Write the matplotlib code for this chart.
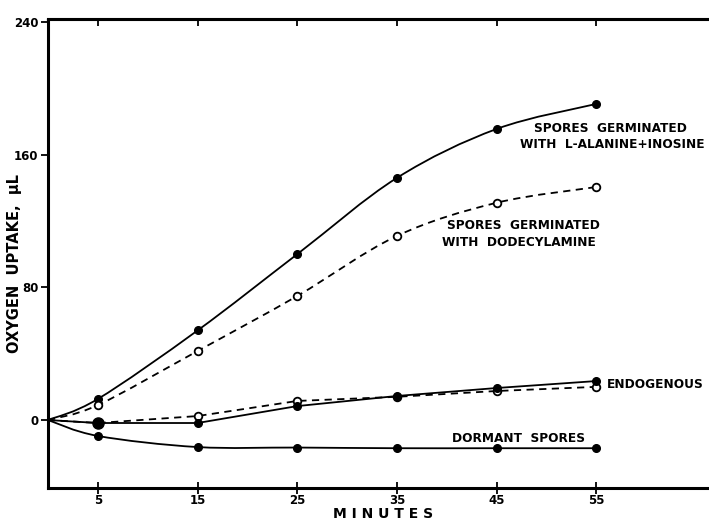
import numpy as np
import matplotlib
matplotlib.use("Agg")
from matplotlib import pyplot as plt
from matplotlib.path import Path
from matplotlib.patches import PathPatch

minutes = [0, 5, 15, 25, 35, 45, 55]
alanine = [0, 12.7, 54, 100, 146, 175.5, 190.6]
dodecyl = [0, 9, 41.6, 74.8, 111, 131, 140.5]
endo_solid = [0, -1.8, -1.8, 8.4, 14.5, 19.3, 23.5]
endo_open = [0, -1.8, 2.4, 11.5, 14, 17.5, 20]
dormant = [0, -9.6, -16.3, -16.6, -17, -17, -17]

plt.rcParams['font.family'] = 'DejaVu Sans'
plt.rcParams['font.weight'] = 'bold'


def smooth_path(xs, ys):
    # catmull-rom -> cubic bezier through the points
    pts = np.column_stack([xs, ys]).astype(float)
    verts = [pts[0]]
    codes = [Path.MOVETO]
    n = len(pts)
    for i in range(n - 1):
        p0 = pts[i - 1] if i > 0 else pts[i]
        p1 = pts[i]
        p2 = pts[i + 1]
        p3 = pts[i + 2] if i + 2 < n else pts[i + 1]
        c1 = p1 + (p2 - p0) / 6.0
        c2 = p2 - (p3 - p1) / 6.0
        verts += [c1, c2, p2]
        codes += [Path.CURVE4] * 3
    return Path(verts, codes)


fig = plt.figure(figsize=(7.09, 5.2), dpi=100)
ax = fig.add_axes([0.0677, 0.0615, 0.9323, 0.901])

ax.add_patch(PathPatch(smooth_path(minutes, alanine), fill=False, lw=1.3, color='black'))
ax.add_patch(PathPatch(smooth_path(minutes, dodecyl), fill=False, lw=1.3, color='black',
                       linestyle=(0, (4, 3))))
ax.add_patch(PathPatch(smooth_path(minutes, dormant), fill=False, lw=1.3, color='black'))
ax.plot(minutes, endo_solid, color='black', lw=1.3)
ax.plot(minutes, endo_open, color='black', lw=1.3, linestyle=(0, (4, 3)))

ax.plot(minutes[1:], alanine[1:], 'o', color='black', ms=5.5)
ax.plot(minutes[1:], dodecyl[1:], 'o', mfc='white', mec='black', mew=1.3, ms=5.5)
ax.plot(minutes[2:], endo_open[2:], 'o', mfc='white', mec='black', mew=1.3, ms=5.5)
ax.plot(minutes[1:], endo_solid[1:], 'o', color='black', ms=5.5)
ax.plot(minutes[1:2], endo_solid[1:2], 'o', color='black', ms=8)
ax.plot(minutes[1:], dormant[1:], 'o', color='black', ms=5.5)

ax.set_xlim(0, 66.3)
ax.set_ylim(-41, 241.5)
ax.set_xticks([5, 15, 25, 35, 45, 55])
ax.set_yticks([0, 80, 160, 240])
ax.spines['right'].set_visible(False)
for s in ['left', 'bottom']:
    ax.spines[s].set_linewidth(2.2)
ax.spines['top'].set_linewidth(1.5)
ax.tick_params(axis='x', direction='inout', length=8, width=1.3,
               labelsize=8.5, pad=0)
ax.tick_params(axis='y', direction='out', length=5, width=1.3, labelsize=8.5, pad=2)
for lab in ax.get_xticklabels() + ax.get_yticklabels():
    lab.set_fontweight('bold')

top = ax.secondary_xaxis('top')
top.set_xticks([5, 15, 25, 35, 45, 55])
top.tick_params(direction='in', length=5, width=1.3, labeltop=False)
top.spines['top'].set_linewidth(1.5)

ax.set_xlabel('M I N U T E S', fontsize=10, fontweight='bold', va='center')
ax.xaxis.set_label_coords(0.507, -0.056)
ax.set_ylabel('OXYGEN  UPTAKE,  \u00b5L', fontsize=10.5, fontweight='bold', va='center')
ax.yaxis.set_label_coords(-0.05, 0.48)

kw = dict(fontsize=8.7, fontweight='bold', ha='center', va='center')
ax.text(56.4, 175.5, 'SPORES  GERMINATED', **kw)
ax.text(56.6, 166, 'WITH  L-ALANINE+INOSINE', **kw)
ax.text(47.7, 117, 'SPORES  GERMINATED', **kw)
ax.text(47.2, 106.8, 'WITH  DODECYLAMINE', **kw)
ax.text(56.1, 21.7, 'ENDOGENOUS', fontsize=8.7, fontweight='bold', ha='left', va='center')
ax.text(47.2, -10.9, 'DORMANT  SPORES', **kw)

fig.savefig('out.png', dpi=100)
